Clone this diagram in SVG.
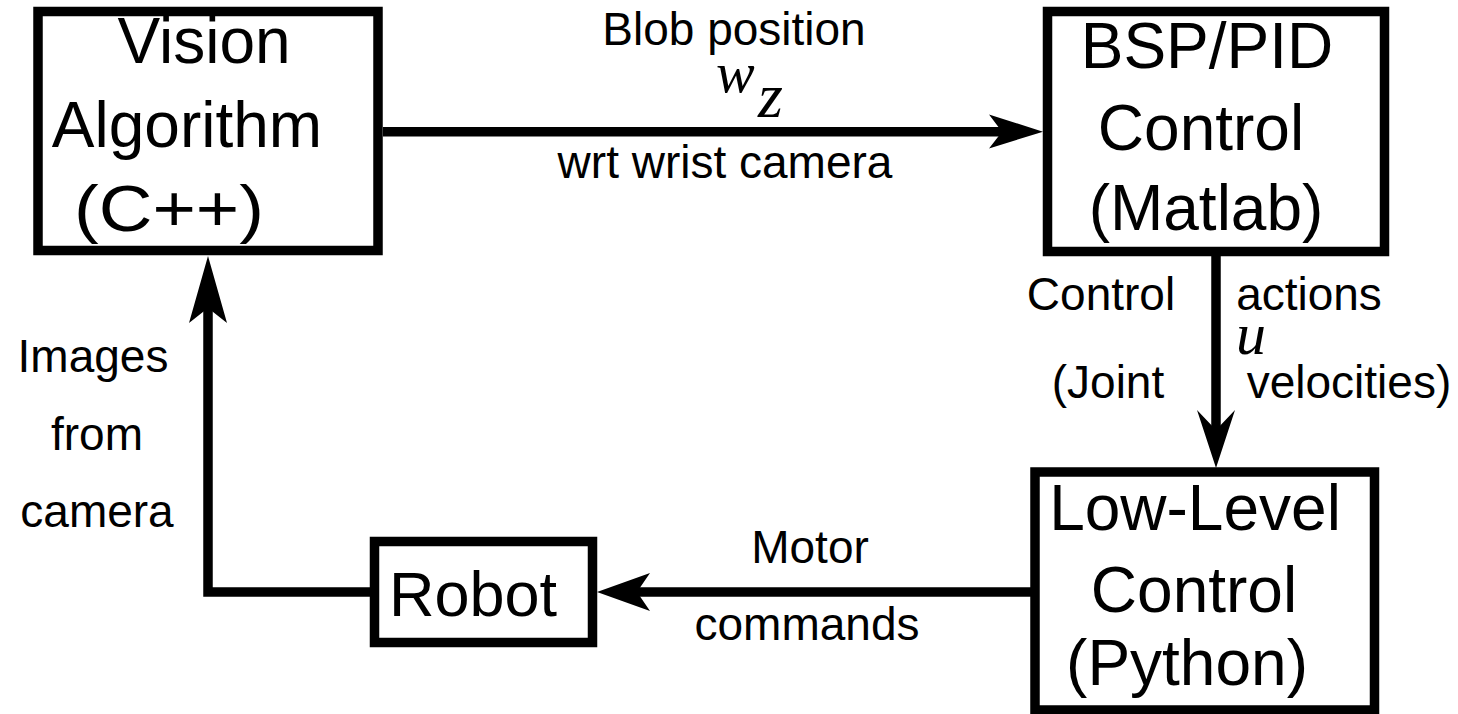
<svg xmlns="http://www.w3.org/2000/svg" width="1458" height="714" viewBox="0 0 1458 714">
<style>
.box{fill:#fff;stroke:#000;stroke-width:9.5}
.big{font-family:"Liberation Sans",Arial,sans-serif;font-size:64px;fill:#000;text-anchor:middle}
.lbl{font-family:"Liberation Sans",Arial,sans-serif;font-size:46px;fill:#000;text-anchor:middle}
.math{font-family:"Liberation Serif","DejaVu Serif",serif;font-style:italic;fill:#000}
.line{fill:none;stroke:#000;stroke-width:9.5;stroke-linejoin:miter}
.head{fill:#000;stroke:none}
</style>
<rect width="1458" height="714" fill="#fff"/>
<g id="connectors">
  <line class="line" x1="383" y1="131.7" x2="1004" y2="131.7"/>
  <polygon class="head" points="1043,131.7 989,114.5 1002,131.7 989,148.5"/>
  <line class="line" x1="1216" y1="256" x2="1216" y2="432"/>
  <polygon class="head" points="1216,468 1197,410 1216,430 1235,410"/>
  <line class="line" x1="1031" y1="592" x2="635" y2="592"/>
  <polygon class="head" points="597,592 650,573 637,592 650,611"/>
  <polyline class="line" points="370,592 208,592 208,306"/>
  <polygon class="head" points="208,256 189,323 208,308 227,323"/>
</g>
<g id="vision">
  <rect class="box" x="38" y="11.5" width="340" height="239"/>
  <text class="big" x="204" y="63">Vision</text>
  <text class="big" x="187" y="147">Algorithm</text>
  <text class="big" x="169" y="231" textLength="190" lengthAdjust="spacingAndGlyphs">(C++)</text>
</g>
<g id="bsp">
  <rect class="box" x="1047.5" y="11.5" width="337" height="240"/>
  <text class="big" x="1207" y="68">BSP/PID</text>
  <text class="big" x="1201" y="150">Control</text>
  <text class="big" x="1206" y="230">(Matlab)</text>
</g>
<g id="lowlevel">
  <rect class="box" x="1035" y="472" width="339.5" height="238"/>
  <text class="big" x="1195" y="530">Low-Level</text>
  <text class="big" x="1194" y="612">Control</text>
  <text class="big" x="1187" y="685">(Python)</text>
</g>
<g id="robot">
  <rect class="box" x="374.5" y="541.5" width="218" height="101"/>
  <text class="big" x="473" y="616" style="font-size:63px">Robot</text>
</g>
<g id="labels">
  <text class="lbl" x="734" y="45">Blob position</text>
  <text class="math" x="716" y="92" style="font-size:58px">w</text>
  <text class="math" x="758" y="117" style="font-size:64px">z</text>
  <text class="lbl" x="725" y="178">wrt wrist camera</text>
  <text class="lbl" x="1101" y="310">Control</text>
  <text class="lbl" x="1309" y="310">actions</text>
  <text class="math" x="1236" y="354" style="font-size:60px">u</text>
  <text class="lbl" x="1108" y="398">(Joint</text>
  <text class="lbl" x="1349" y="398">velocities)</text>
  <text class="lbl" x="93" y="372">Images</text>
  <text class="lbl" x="97" y="450">from</text>
  <text class="lbl" x="97" y="527">camera</text>
  <text class="lbl" x="810" y="563">Motor</text>
  <text class="lbl" x="807" y="640">commands</text>
</g>
</svg>
